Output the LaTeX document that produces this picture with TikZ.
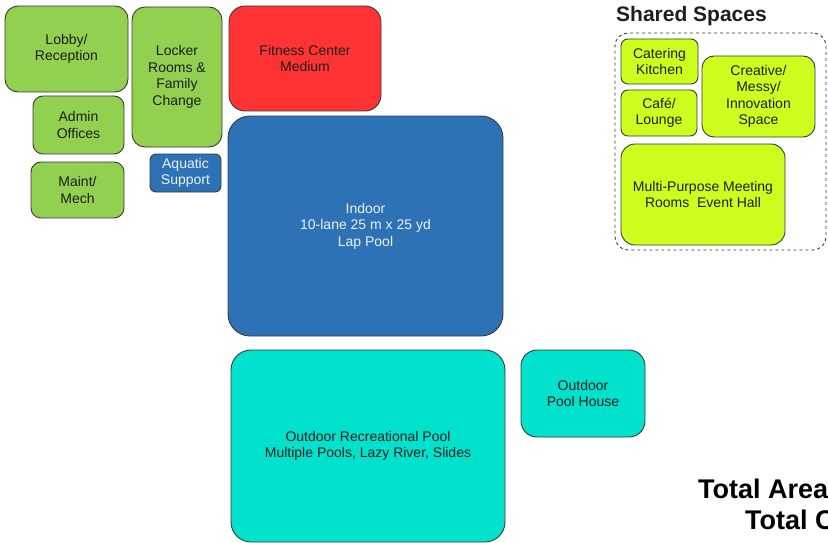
\documentclass[tikz,border=0pt]{standalone}
\usepackage{fontspec}
\setmainfont{Liberation Sans}
\definecolor{roomgreen}{HTML}{92D050}
\definecolor{fitred}{HTML}{FF3333}
\definecolor{poolblue}{HTML}{2E72B6}
\definecolor{outteal}{HTML}{00E2CC}
\definecolor{sharedlime}{HTML}{CCFF1E}
\definecolor{edgegray}{HTML}{3A3A3A}
\definecolor{txtgray}{HTML}{1E1E1E}
\begin{document}
\begin{tikzpicture}[x=1pt,y=-1pt,
    room/.style={draw=edgegray,line width=0.9pt,rounded corners=10pt,align=center,
      text=txtgray,font=\fontsize{14}{16.5}\selectfont,inner sep=0pt},
    green/.style={room,fill=roomgreen},
    lime/.style={room,fill=sharedlime},
    teal/.style={room,fill=outteal,rounded corners=16pt},
    blue/.style={room,fill=poolblue,text=white!90!poolblue}]
  \clip (0,0) rectangle (828,543);
  \node [green,minimum width=123pt,minimum height=86pt,rounded corners=13pt] (lobby) at (66.5,49) {Lobby/\\Reception};
  \node [green,minimum width=91pt,minimum height=58pt] (admin) at (78.5,125) {Admin\\Offices};
  \node [green,minimum width=93pt,minimum height=56pt] (maint) at (77.5,190) {Maint/\\Mech};
  \node [green,minimum width=90pt,minimum height=140pt,rounded corners=13pt] (locker) at (177,77) {Locker\\Rooms \&\\Family\\Change};
  \node [blue,minimum width=71pt,minimum height=38pt,rounded corners=6pt] (aquatic) at (185.5,173) {Aquatic\\Support};
  \node [room,fill=fitred,minimum width=152pt,minimum height=105pt,rounded corners=16pt] (fitness) at (305,58.5) {Fitness Center\\Medium};
  \node [blue,minimum width=275pt,minimum height=220pt,rounded corners=22pt] (indoor) at (365.5,226) {Indoor\\10-lane 25 m x 25 yd\\Lap Pool};
  \node [teal,minimum width=274pt,minimum height=192pt,rounded corners=20pt] (outrec) at (368,446) {Outdoor Recreational Pool\\Multiple Pools, Lazy River, Slides};
  \node [teal,minimum width=124pt,minimum height=87pt] (poolhouse) at (583,393.5) {Outdoor\\Pool House};
  \node [font=\bfseries\fontsize{21}{24}\selectfont,text=txtgray] (sharedtitle) at (691.5,16) {Shared Spaces};
  \node [draw=edgegray,dashed,line width=0.9pt,rounded corners=13pt,minimum width=211pt,minimum height=217pt] (shared) at (720.5,141.5) {};
  \node [lime,minimum width=77pt,minimum height=45pt,rounded corners=7pt] (catering) at (659.5,61.5) {Catering\\Kitchen};
  \node [lime,minimum width=76pt,minimum height=46pt,rounded corners=7pt] (cafe) at (659,113) {Café/\\Lounge};
  \node [lime,minimum width=113pt,minimum height=81pt,rounded corners=12pt] (creative) at (758.5,96.5) {Creative/\\Messy/\\Innovation\\Space};
  \node [lime,minimum width=164pt,minimum height=101pt,rounded corners=14pt] (multi) at (703,194.5) {Multi-Purpose Meeting\\Rooms\ \ Event Hall};
  \node [anchor=base west,inner sep=0pt,font=\bfseries\fontsize{27}{30}\selectfont] (totalarea) at (698,498) {Total Area};
  \node [anchor=base west,inner sep=0pt,font=\bfseries\fontsize{27}{30}\selectfont] (totalc) at (745,529) {Total C};
\end{tikzpicture}
\end{document}
